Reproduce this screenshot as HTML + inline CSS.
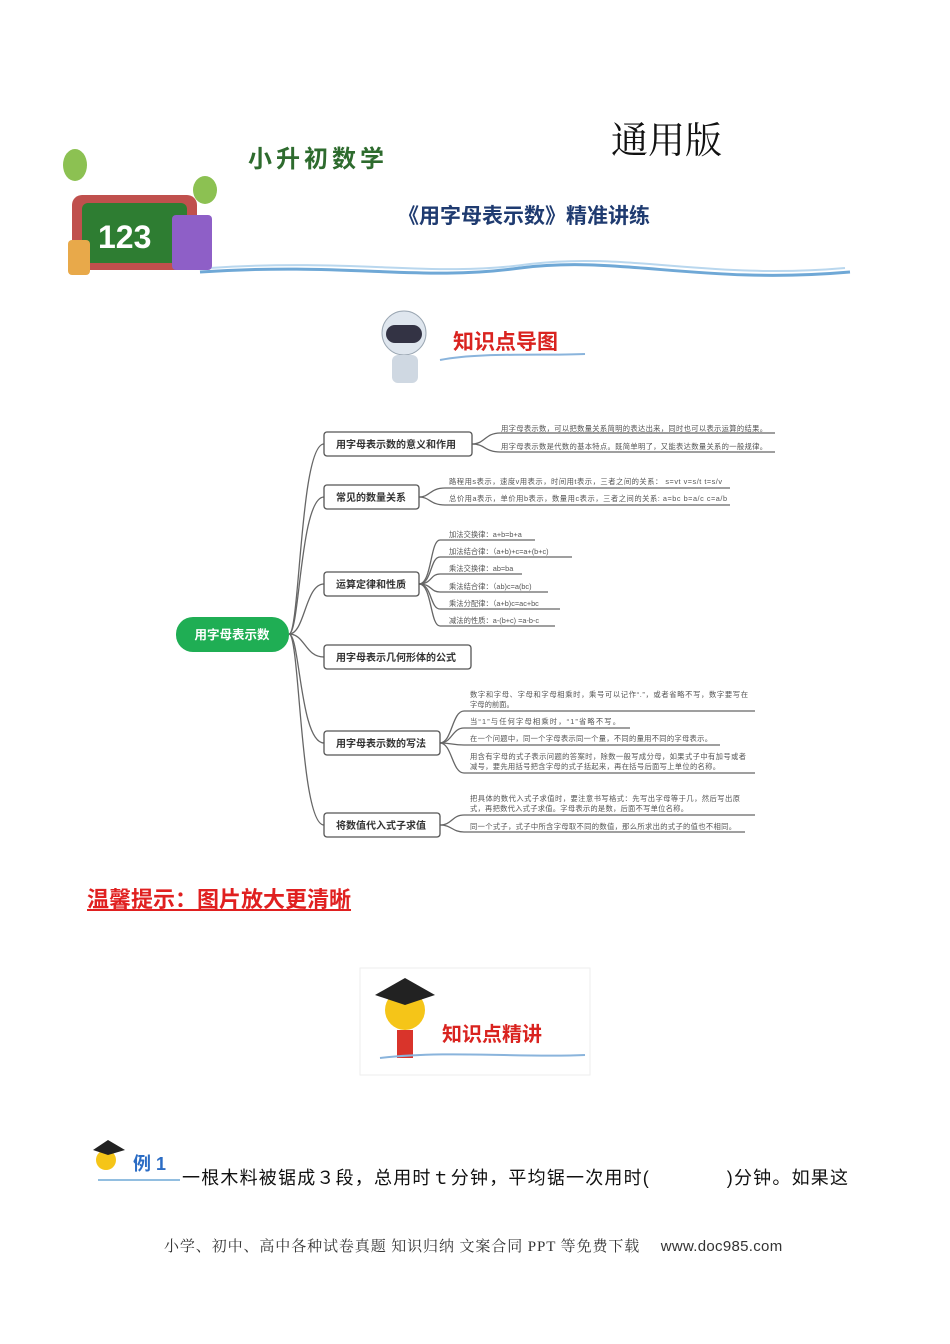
<!DOCTYPE html>
<html><head><meta charset="utf-8"><style>
body{margin:0;background:#fff;}
#p{position:relative;width:950px;height:1344px;overflow:hidden;font-family:"Liberation Sans","Noto Sans CJK SC",sans-serif;}
.a{position:absolute;white-space:nowrap;}
</style></head><body><div id="p">
<svg width="950" height="1344" style="position:absolute;left:0;top:0" font-family="Liberation Sans, Noto Sans CJK SC, sans-serif">
<path d="M200 272 C350 262 420 282 520 268 C620 255 700 285 850 272" stroke="#6fa8d6" stroke-width="3" fill="none"/>
<path d="M210 268 C360 258 430 278 530 264 C630 252 710 280 845 268" stroke="#b9d7ee" stroke-width="2" fill="none"/>
<ellipse cx="75" cy="165" rx="12" ry="16" fill="#8cc152"/>
<ellipse cx="205" cy="190" rx="12" ry="14" fill="#8cc152"/>
<rect x="72" y="195" width="125" height="75" rx="10" fill="#c0504d"/>
<rect x="82" y="203" width="105" height="60" rx="6" fill="#2e7d32"/>
<text x="98" y="248" font-size="32" font-weight="bold" fill="#fff">123</text>
<rect x="172" y="215" width="40" height="55" rx="4" fill="#8e5fc7"/>
<rect x="68" y="240" width="22" height="35" rx="4" fill="#e8a94a"/>
<circle cx="404" cy="333" r="22" fill="#dfe6ee" stroke="#9aa6b2"/>
<rect x="386" y="325" width="36" height="18" rx="9" fill="#334"/>
<rect x="392" y="355" width="26" height="28" rx="6" fill="#cfd8e2"/>
<path d="M440 360 C480 352 540 356 585 354" stroke="#8ab4dc" stroke-width="2" fill="none"/>
<g stroke="#666" stroke-width="1.3" fill="none">
<path d="M289 634 C300 634 300 444 324 444"/>
<path d="M289 634 C300 634 300 497 324 497"/>
<path d="M289 634 C305 634 305 584 324 584"/>
<path d="M289 634 C305 634 305 657 324 657"/>
<path d="M289 634 C300 634 300 743 324 743"/>
<path d="M289 634 C300 634 300 825 324 825"/>
<path d="M472 444 C485 444 485 433 500 433 L775 433"/>
<path d="M472 444 C485 444 485 452 500 452 L775 452"/>
<path d="M419 497 C430 497 430 488 445 488 L730 488"/>
<path d="M419 497 C430 497 430 505 445 505 L730 505"/>
<path d="M419 584 C432 584 430 540 440 540 L535 540"/>
<path d="M419 584 C432 584 430 557 440 557 L572 557"/>
<path d="M419 584 C432 584 430 574 440 574 L522 574"/>
<path d="M419 584 C432 584 430 592 440 592 L548 592"/>
<path d="M419 584 C432 584 430 609 440 609 L560 609"/>
<path d="M419 584 C432 584 430 626 440 626 L555 626"/>
<path d="M440 743 C452 743 452 711 464 711 L755 711"/>
<path d="M440 743 C452 743 452 728 464 728 L630 728"/>
<path d="M440 743 C452 743 452 745 464 745 L720 745"/>
<path d="M440 743 C452 743 452 773 464 773 L755 773"/>
<path d="M440 825 C452 825 452 815 464 815 L755 815"/>
<path d="M440 825 C452 825 452 832 464 832 L745 832"/>
</g>
<rect x="176" y="617" width="113" height="35" rx="17" fill="#1fae54"/>
<text x="232" y="639" font-size="12.5" font-weight="bold" fill="#fff" text-anchor="middle">用字母表示数</text>
<g fill="#fff" stroke="#555" stroke-width="1.3">
<rect x="324" y="432" width="148" height="24" rx="3"/>
<rect x="324" y="485" width="95" height="24" rx="3"/>
<rect x="324" y="572" width="95" height="24" rx="3"/>
<rect x="324" y="645" width="147" height="24" rx="3"/>
<rect x="324" y="731" width="116" height="24" rx="3"/>
<rect x="324" y="813" width="116" height="24" rx="3"/>
</g>
<g font-size="10" font-weight="bold" fill="#333">
<text x="336" y="448">用字母表示数的意义和作用</text>
<text x="336" y="501">常见的数量关系</text>
<text x="336" y="588">运算定律和性质</text>
<text x="336" y="661">用字母表示几何形体的公式</text>
<text x="336" y="747">用字母表示数的写法</text>
<text x="336" y="829">将数值代入式子求值</text>
</g>
<g font-size="7.3" fill="#555">
<text x="501" y="431" textLength="266">用字母表示数，可以把数量关系简明的表达出来，同时也可以表示运算的结果。</text>
<text x="501" y="449" textLength="266">用字母表示数是代数的基本特点。既简单明了，又能表达数量关系的一般规律。</text>
<text x="449" y="484" textLength="273">路程用s表示，速度v用表示，时间用t表示，三者之间的关系：  s=vt v=s/t t=s/v</text>
<text x="449" y="501" textLength="278">总价用a表示，单价用b表示，数量用c表示，三者之间的关系: a=bc b=a/c c=a/b</text>
<text x="449" y="537">加法交换律：a+b=b+a</text>
<text x="449" y="554">加法结合律：（a+b)+c=a+(b+c)</text>
<text x="449" y="571">乘法交换律：ab=ba</text>
<text x="449" y="589">乘法结合律：（ab)c=a(bc)</text>
<text x="449" y="606">乘法分配律：（a+b)c=ac+bc</text>
<text x="449" y="623">减法的性质：a-(b+c) =a-b-c</text>
<text x="470" y="697" textLength="278">数字和字母、字母和字母相乘时，乘号可以记作“.”，或者省略不写，数字要写在</text>
<text x="470" y="707">字母的前面。</text>
<text x="470" y="724" textLength="150">当“1”与任何字母相乘时，“1”省略不写。</text>
<text x="470" y="741" textLength="242">在一个问题中，同一个字母表示同一个量，不同的量用不同的字母表示。</text>
<text x="470" y="759" textLength="276">用含有字母的式子表示问题的答案时，除数一般写成分母，如果式子中有加号或者</text>
<text x="470" y="769" textLength="250">减号，要先用括号把含字母的式子括起来，再在括号后面写上单位的名称。</text>
<text x="470" y="801" textLength="270">把具体的数代入式子求值时，要注意书写格式：先写出字母等于几，然后写出原</text>
<text x="470" y="811" textLength="218">式，再把数代入式子求值。字母表示的是数，后面不写单位名称。</text>
<text x="470" y="829" textLength="266">同一个式子，式子中所含字母取不同的数值，那么所求出的式子的值也不相同。</text>
</g>
<rect x="360" y="968" width="230" height="107" fill="#fff" stroke="#eee"/>
<circle cx="405" cy="1010" r="20" fill="#f5c518"/>
<path d="M375 995 L405 978 L435 995 L405 1005 Z" fill="#222"/>
<rect x="397" y="1030" width="16" height="28" fill="#d9342b"/>
<path d="M380 1058 C450 1050 520 1058 585 1055" stroke="#8ab4dc" stroke-width="2" fill="none"/>
<circle cx="106" cy="1160" r="10" fill="#f5c518"/>
<path d="M93 1150 L108 1140 L125 1150 L108 1155 Z" fill="#222"/>
<path d="M98 1180 L180 1180" stroke="#6fa8d6" stroke-width="1.5"/>
</svg>
<div class="a" style="left:248px;top:139px;font-size:24px;font-weight:bold;color:#2e6b2e;letter-spacing:4px;">小升初数学</div>
<div class="a" style="left:611px;top:110px;font-size:37px;font-family:'Liberation Serif','Noto Serif CJK SC',serif;color:#111;">通用版</div>
<div class="a" style="left:398px;top:200px;font-size:21px;font-weight:bold;color:#1f3b70;">《用字母表示数》精准讲练</div>
<div class="a" style="left:453px;top:326px;font-size:21px;font-weight:bold;color:#d9231f;">知识点导图</div>
<div class="a" style="left:87px;top:882px;font-size:22px;font-weight:bold;color:#e02020;text-decoration:underline;">温馨提示：图片放大更清晰</div>
<div class="a" style="left:442px;top:1018px;font-size:20px;font-weight:bold;color:#d9231f;">知识点精讲</div>
<div class="a" style="left:133px;top:1150px;font-size:18px;font-weight:bold;color:#2b6cc4;">例 1</div>
<div class="a" style="left:182px;top:1164px;font-size:18px;color:#111;letter-spacing:1.2px;">一根木料被锯成３段，总用时ｔ分钟，平均锯一次用时(　　　　)分钟。如果这</div>
<div class="a" style="left:164px;top:1235px;font-size:15px;color:#333;font-family:'Liberation Serif','Noto Serif CJK SC',serif;letter-spacing:0.9px;">小学、初中、高中各种试卷真题 知识归纳 文案合同 PPT 等免费下载　 <span style="font-family:'Liberation Sans',sans-serif;letter-spacing:0.3px;">www.doc985.com</span></div>
</div></body></html>
